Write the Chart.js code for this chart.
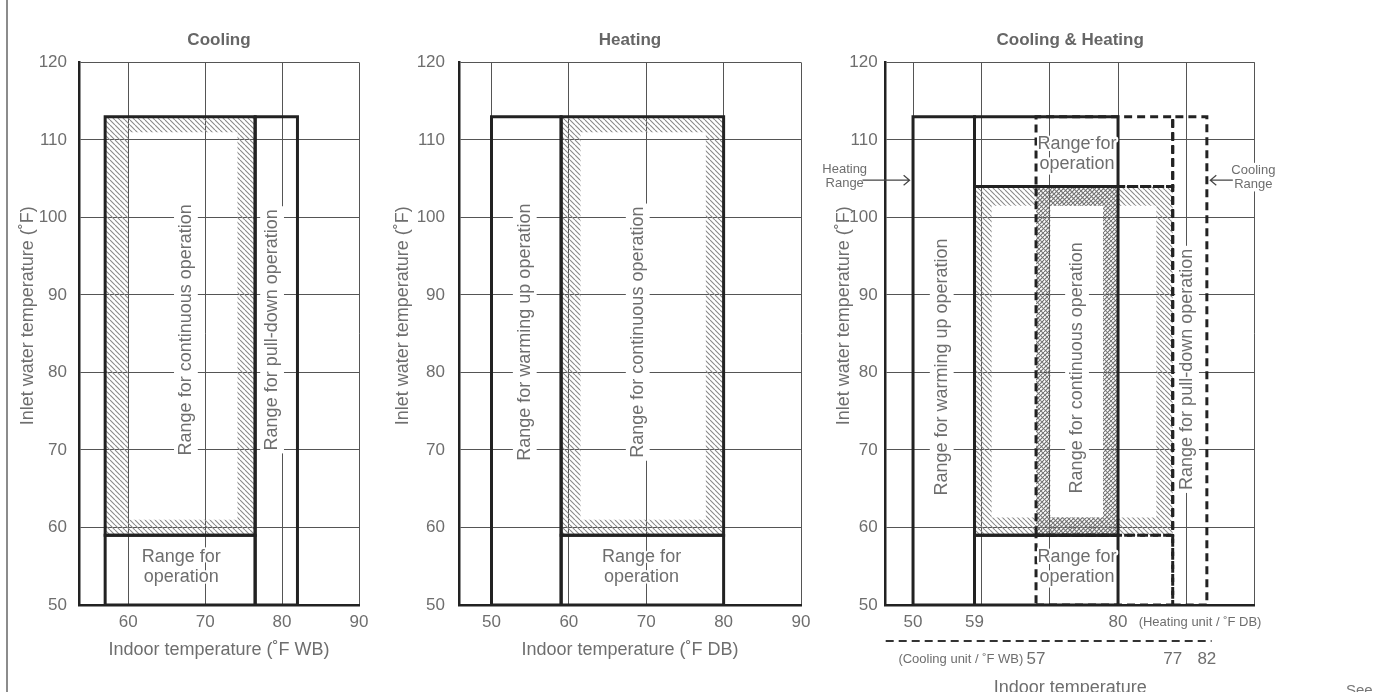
<!DOCTYPE html>
<html>
<head>
<meta charset="utf-8">
<title>Operation range</title>
<script src="https://cdn.jsdelivr.net/npm/chart.js@4.4.0/dist/chart.umd.min.js"></script>
<style>
  html, body { margin: 0; padding: 0; background: #fff; width: 1393px; height: 692px; overflow: hidden; }
  canvas { position: absolute; top: 0; }
  #frame { position: absolute; left: 6px; top: 0; height: 692px; border-left: 2px solid #8c8c8c; }
  #see { position: absolute; left: 1346px; top: 681px; font: 15px 'Liberation Sans', Arial, sans-serif; color: #777; }
</style>
</head>
<body>
<div id="frame"></div>
<canvas id="coolChart" width="390" height="692" style="left:0px"></canvas>
<canvas id="heatChart" width="440" height="692" style="left:380px"></canvas>
<canvas id="bothChart" width="593" height="720" style="left:800px"></canvas>
<div id="see">See</div>
<script>
// ---- values (°F) ----
// rectangles are [x from, x to, y from, y to]
const yTicks = [50, 60, 70, 80, 90, 100, 110, 120];

// Cooling, indoor °F WB
const coolRange = [53.6, 90];
const coolTicks = [60, 70, 80, 90];
const coolOperation = [57, 76.5, 50, 59];
const coolContinuous = [57, 76.5, 59, 113];
const coolCore = [60, 74.2, 61, 111];
const coolPullDown = [76.5, 82, 50, 113];

// Heating, indoor °F DB
const heatRange = [45.8, 90];
const heatTicks = [50, 60, 70, 80, 90];
const heatWarmUp = [50, 59, 50, 113];
const heatOperation = [59, 80, 50, 59];
const heatContinuous = [59, 80, 59, 113];
const heatCore = [61.5, 77.7, 61, 111];

// Cooling & Heating: heating unit on °F DB, cooling unit on °F WB
const bothRange = [46, 100];
const coolShift = 11;               // cooling WB scale sits 11 degrees left of the DB scale
const bothHeatTicks = [50, 59, 60, 70, 80, 90, 100];
const bothHeatLabels = [50, 59, 80];
const bothCoolTicks = [57, 77, 82];
const bothCoolAxisEnd = 82.7;
const bothHeatWarmUp = [50, 59, 50, 113];
const bothHeatUpper = [59, 80, 104, 113];
const bothHeatCont = [59, 80, 59, 104];
const bothHeatLower = [59, 80, 50, 59];
const bothHeatCore = [61.5, 77.8, 61.3, 101.5];
const bothCoolUpper = [57, 77, 104, 113];
const bothCoolCont = [57, 77, 59, 104];
const bothCoolLower = [57, 77, 50, 59];
const bothCoolPullDown = [77, 82, 50, 113];
const bothCoolCore = [59.1, 74.6, 61.3, 101.5];
const bothShared = [68, 80, 59, 104];
const bothSharedCore = [70, 77.8, 61.3, 101.5];

const FONT = "'Liberation Sans', Arial, sans-serif";
const INK = '#222222';
const GRID = '#555555';
const TEXT = '#6e6e6e';
Chart.defaults.font.family = FONT;
Chart.defaults.color = TEXT;

// hatch fills
function hatch(dir, color, size, width) {
    const c = document.createElement('canvas');
    c.width = c.height = size;
    const g = c.getContext('2d');
    g.strokeStyle = color;
    g.lineWidth = width;
    g.beginPath();
    [-size, 0, size].forEach(k => {
        if (dir === 'down') { g.moveTo(k, 0); g.lineTo(k + size, size); }
        else { g.moveTo(k, size); g.lineTo(k + size, 0); }
    });
    g.stroke();
    return g.createPattern(c, 'repeat');
}
const lightHatch = hatch('down', '#8a8a8a', 5, 1.1);
const crossHatch = hatch('up', '#6e6e6e', 4, 1.1);

// outline of a rectangle
function box(r) {
    const [x0, x1, y0, y1] = r;
    return [{x: x0, y: y0}, {x: x1, y: y0}, {x: x1, y: y1}, {x: x0, y: y1}, {x: x0, y: y0}];
}
// rectangle with a hole (the hatched frame)
function ring(outer, inner) {
    const [a0, a1, b0, b1] = inner;
    return box(outer).concat([
        {x: a0, y: b0}, {x: a0, y: b1}, {x: a1, y: b1}, {x: a1, y: b0}, {x: a0, y: b0},
        {x: outer[0], y: outer[2]}
    ]);
}

function hatchSet(points, pattern, order, axis) {
    return {
        data: points, xAxisID: axis || 'x', fill: 'shape', backgroundColor: pattern,
        borderColor: 'rgba(0,0,0,0)', borderWidth: 1, pointRadius: 0, order: order
    };
}
function edgeSet(points, dashed, axis) {
    return {
        data: points, xAxisID: axis || 'x', fill: false, borderColor: INK, borderWidth: 3,
        borderDash: dashed ? [8, 5] : [], borderCapStyle: dashed ? 'butt' : 'square',
        borderJoinStyle: 'miter', pointRadius: 0, order: 0
    };
}

function yScale(width, titlePad, tickPad) {
    return {
        type: 'linear', min: 50, max: 120,
        afterBuildTicks: s => { s.ticks = yTicks.map(v => ({value: v})); },
        grid: {color: GRID, lineWidth: 1, drawTicks: false},
        border: {color: INK, width: 2.5},
        ticks: {color: TEXT, font: {size: 17}, padding: tickPad},
        // leading em spaces lift the title the way it sits in the original
        title: {display: true, text: '\u2003\u2003Inlet water temperature (˚F)', color: TEXT, font: {size: 18}, padding: {top: titlePad, bottom: 0}},
        afterFit: s => { s.width = width; }
    };
}
function xScale(range, ticks, title, height) {
    return {
        type: 'linear', min: range[0], max: range[1],
        afterBuildTicks: s => { s.ticks = ticks.map(v => ({value: v})); },
        grid: {color: GRID, lineWidth: 1, drawTicks: false},
        border: {color: INK, width: 2.5},
        ticks: {color: TEXT, font: {size: 17}, padding: 7, autoSkip: false, maxRotation: 0},
        title: {display: true, text: title, color: TEXT, font: {size: 18}, padding: {top: 2, bottom: 31}},
        afterFit: s => { s.height = height; }
    };
}
function chartTitle(text) {
    return {display: true, text: text, color: '#666', font: {size: 17, weight: 'bold'}, padding: {top: 30, bottom: 12}, fullSize: false};
}

// text written inside the diagrams
function notes(items) {
    return {
        id: 'notes',
        afterDatasetsDraw(chart) {
            const ctx = chart.ctx;
            items.forEach(n => {
                const px = chart.scales[n.axis || 'x'].getPixelForValue(n.x);
                const py = chart.scales.y.getPixelForValue(n.y);
                const size = n.size || 18;
                const lines = [].concat(n.text);
                const lh = size * 1.1;
                ctx.save();
                ctx.translate(px, py);
                if (n.vertical) ctx.rotate(-Math.PI / 2);
                ctx.font = size + 'px ' + FONT;
                ctx.textAlign = 'center';
                ctx.textBaseline = 'middle';
                const w = Math.max(...lines.map(t => ctx.measureText(t).width));
                if (n.vertical || n.boxed) {
                    ctx.fillStyle = '#fff';
                    const h = lines.length * lh + (n.vertical ? 4 : 0);
                    ctx.fillRect(-w / 2 - 3, -h / 2, w + 6, h);
                } else {
                    ctx.strokeStyle = '#fff';
                    ctx.lineWidth = 4;
                    ctx.lineJoin = 'round';
                    lines.forEach((t, i) => ctx.strokeText(t, 0, (i - (lines.length - 1) / 2) * lh));
                }
                ctx.fillStyle = TEXT;
                lines.forEach((t, i) => ctx.fillText(t, 0, (i - (lines.length - 1) / 2) * lh));
                ctx.restore();
            });
        }
    };
}

const baseOptions = {
    responsive: false,
    animation: false,
    events: []
};

// ---------- Cooling ----------
new Chart(document.getElementById('coolChart'), {
    type: 'line',
    data: {
        datasets: [
            edgeSet(box(coolContinuous)),
            edgeSet(box(coolOperation)),
            edgeSet(box(coolPullDown)),
            hatchSet(ring(coolContinuous, coolCore), lightHatch, 5)
        ]
    },
    options: Object.assign({}, baseOptions, {
        layout: {padding: {left: 10, right: 31, top: 0, bottom: 0}},
        plugins: {legend: {display: false}, tooltip: {enabled: false}, title: chartTitle('Cooling')},
        scales: {
            x: xScale(coolRange, coolTicks, 'Indoor temperature (˚F WB)', 87),
            y: yScale(69, 7, 12)
        }
    }),
    plugins: [notes([
        {text: 'Range for continuous operation', x: 67.5, y: 85.5, vertical: true},
        {text: 'Range for pull-down operation', x: 78.7, y: 85.5, vertical: true},
        {text: ['Range for', 'operation'], x: 66.9, y: 54.9}
    ])]
});

// ---------- Heating ----------
new Chart(document.getElementById('heatChart'), {
    type: 'line',
    data: {
        datasets: [
            edgeSet(box(heatWarmUp)),
            edgeSet(box(heatContinuous)),
            edgeSet(box(heatOperation)),
            hatchSet(ring(heatContinuous, heatCore), lightHatch, 5)
        ]
    },
    options: Object.assign({}, baseOptions, {
        layout: {padding: {left: 5, right: 19, top: 0, bottom: 0}},
        plugins: {legend: {display: false}, tooltip: {enabled: false}, title: chartTitle('Heating')},
        scales: {
            x: xScale(heatRange, heatTicks, 'Indoor temperature (˚F DB)', 87),
            y: yScale(74, 7, 14)
        }
    }),
    plugins: [notes([
        {text: 'Range for warming up operation', x: 54.3, y: 85.2, vertical: true},
        {text: 'Range for continuous operation', x: 68.9, y: 85.2, vertical: true},
        {text: ['Range for', 'operation'], x: 69.4, y: 54.9}
    ])]
});

// ---------- Cooling & Heating ----------
const rangeArrows = [
    {axis: 'x', from: 42.6, to: 49.5, y: 104.8},
    {axis: 'x2', from: 85.8, to: 82.5, y: 104.8}
];
const bothExtras = {
    id: 'bothExtras',
    afterDraw(chart) {
        const ctx = chart.ctx, xs = chart.scales.x, x2 = chart.scales.x2, ys = chart.scales.y;
        ctx.save();
        // dashed line of the cooling-unit scale
        ctx.strokeStyle = '#333';
        ctx.lineWidth = 2;
        ctx.setLineDash([8, 5]);
        ctx.beginPath();
        ctx.moveTo(x2.left, x2.top);
        ctx.lineTo(x2.getPixelForValue(bothCoolAxisEnd), x2.top);
        ctx.stroke();
        ctx.setLineDash([]);
        // arrows to the heating / cooling ranges
        ctx.strokeStyle = '#444';
        ctx.lineWidth = 1.2;
        rangeArrows.forEach(a => {
            const s = chart.scales[a.axis];
            const p0 = s.getPixelForValue(a.from), p1 = s.getPixelForValue(a.to), py = ys.getPixelForValue(a.y);
            const d = p1 > p0 ? -1 : 1;
            ctx.beginPath();
            ctx.moveTo(p0, py); ctx.lineTo(p1, py);
            ctx.moveTo(p1 + d * 6, py - 5); ctx.lineTo(p1, py); ctx.lineTo(p1 + d * 6, py + 5);
            ctx.stroke();
        });
        // unit captions next to the scales
        ctx.fillStyle = TEXT;
        ctx.font = '13px ' + FONT;
        ctx.textAlign = 'center';
        ctx.textBaseline = 'middle';
        ctx.fillText('(Heating unit / ˚F DB)', xs.getPixelForValue(92), xs.top + 7 + 10.5);
        ctx.fillText('(Cooling unit / ˚F WB)', x2.getPixelForValue(46), x2.top + 8 + 10.5);
        ctx.restore();
    }
};

const bothX = xScale(bothRange, bothHeatTicks, '', 36);
bothX.title = {display: false};
bothX.ticks.callback = v => bothHeatLabels.includes(v) ? v : '';
bothX.grid.color = c => (c.tick && c.tick.value === 59) ? 'rgba(0,0,0,0)' : GRID;
bothX.weight = 0;

const bothX2 = xScale([bothRange[0] - coolShift, bothRange[1] - coolShift], bothCoolTicks, 'Indoor temperature', 79);
bothX2.position = 'bottom';
bothX2.weight = 1;
bothX2.grid = {display: false, drawTicks: false};
bothX2.border = {display: false};
bothX2.ticks.padding = 8;
bothX2.title.padding = {top: 2, bottom: 21};

new Chart(document.getElementById('bothChart'), {
    type: 'line',
    data: {
        datasets: [
            edgeSet(box(bothHeatWarmUp)),
            edgeSet(box(bothHeatUpper)),
            edgeSet(box(bothHeatCont)),
            edgeSet(box(bothHeatLower)),
            edgeSet(box(bothCoolUpper), true, 'x2'),
            edgeSet(box(bothCoolCont), true, 'x2'),
            edgeSet(box(bothCoolLower), true, 'x2'),
            edgeSet(box(bothCoolPullDown), true, 'x2'),
            hatchSet(ring(bothShared, bothSharedCore), crossHatch, 3),
            hatchSet(ring(bothCoolCont, bothCoolCore), lightHatch, 4, 'x2'),
            hatchSet(ring(bothHeatCont, bothHeatCore), lightHatch, 5)
        ]
    },
    options: Object.assign({}, baseOptions, {
        layout: {padding: {left: 20, right: 138.3, top: 0, bottom: 0}},
        plugins: {legend: {display: false}, tooltip: {enabled: false}, title: chartTitle('Cooling & Heating')},
        scales: {
            x: bothX,
            x2: bothX2,
            y: yScale(65.7, 13, 8)
        }
    }),
    plugins: [notes([
        {text: 'Range for warming up operation', x: 54.2, y: 80.7, vertical: true},
        {text: 'Range for continuous operation', x: 74, y: 80.6, vertical: true},
        {text: 'Range for pull-down operation', axis: 'x2', x: 79.1, y: 80.4, vertical: true},
        {text: ['Range for', 'operation'], x: 74, y: 108.2},
        {text: ['Range for', 'operation'], x: 74, y: 54.9},
        {text: ['Heating', 'Range'], x: 40, y: 105.3, size: 13, boxed: true},
        {text: ['Cooling', 'Range'], axis: 'x2', x: 88.8, y: 105.2, size: 13, boxed: true}
    ]), bothExtras]
});
</script>
</body>
</html>
